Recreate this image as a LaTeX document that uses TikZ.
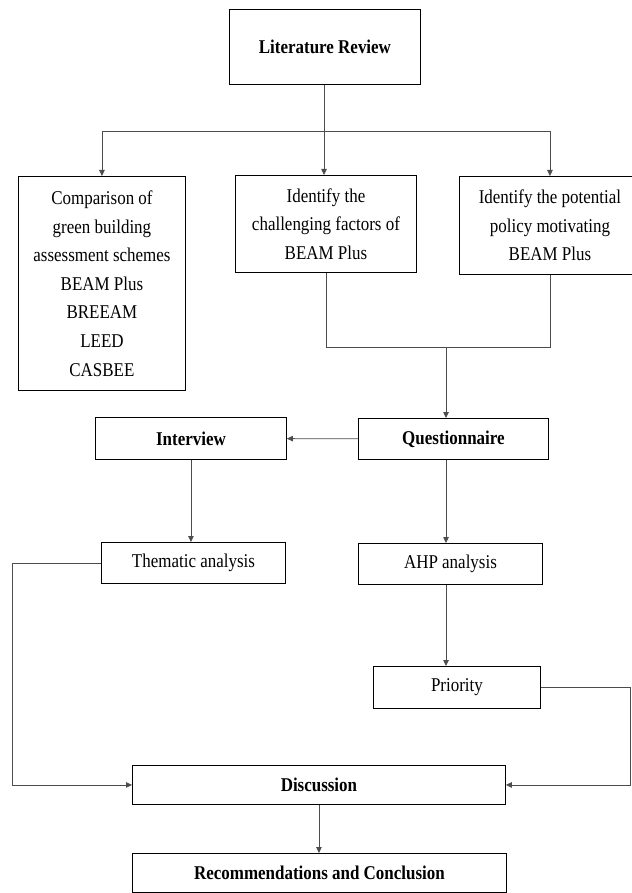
\documentclass[tikz,border=0pt]{standalone}
\usepackage{fontspec}
\setmainfont[FakeStretch=0.87]{Liberation Serif}
\usepackage{tikz}
\usetikzlibrary{arrows.meta, positioning, calc}

\tikzset{
  box/.style={rectangle, draw, line width=0.9pt, anchor=north west, align=center, inner sep=0pt,
    font=\fontsize{19.5}{28.6}\selectfont},
  link/.style={draw=black!70, line width=0.8pt},
  arr/.style={link, -{Triangle[length=6pt,width=5.5pt]}}
}

\begin{document}
\begin{tikzpicture}[x=1pt, y=-1pt]
        \useasboundingbox (0,0) rectangle (631,893);
        \node (LitReview) [box, minimum width=191pt, minimum height=75pt] at (229,9) {\textbf{Literature Review}};
        \node (Compare) [box, minimum width=167pt, minimum height=214pt] at (18,176) {Comparison of\\ green building\\ assessment schemes\\ BEAM Plus\\ BREEAM\\ LEED\\ CASBEE};
        \node (Challenge) [box, minimum width=181pt, minimum height=97pt] at (235,175) {Identify the\\ challenging factors of\\ BEAM Plus};
        \node (Policy) [box, minimum width=181pt, minimum height=98pt] at (459,176) {Identify the potential\\ policy motivating\\ BEAM Plus};
        \node (Interview) [box, minimum width=191pt, minimum height=42pt] at (95,417) {\textbf{Interview}};
        \node (Questionnaire) [box, minimum width=190pt, minimum height=41pt] at (358,418) {\textbf{Questionnaire}};
        \node (Thematic) [box, minimum width=184pt, minimum height=41pt] at (101,542) {Thematic analysis};
        \node (AHP) [box, minimum width=184pt, minimum height=41pt] at (358,543) {AHP analysis};
        \node (Priority) [box, minimum width=167pt, minimum height=42pt] at (373,666) {Priority};
        \node (Discussion) [box, minimum width=373pt, minimum height=39pt] at (132,765) {\textbf{Discussion}};
        \node (Recommend) [box, minimum width=374pt, minimum height=39pt] at (132,853) {\textbf{Recommendations and Conclusion}};

        \coordinate (split) at (324,131);
        \coordinate (merge) at (446,347);

        \draw[link] (split |- LitReview.south) -- (split);
        \draw[arr] (split) -| (Compare.north);
        \draw[arr] (split) -| (Policy.north);
        \draw[arr] (split) -- (split |- Challenge.north);

        \draw[link] (Challenge.south) -- (Challenge.south |- merge) -- (Policy.south |- merge) -- (Policy.south);
        \draw[arr] (merge) -- (merge |- Questionnaire.north);

        \draw[arr] (Questionnaire) -- (Interview);
        \draw[arr] (Interview.south) -- (Interview.south |- Thematic.north);
        \draw[arr] (merge |- Questionnaire.south) -- (merge |- AHP.north);
        \draw[arr] (merge |- AHP.south) -- (merge |- Priority.north);

        \draw[arr] (Thematic.west) -- ++(-88.5,0) |- (Discussion.west);
        \draw[arr] (Priority.east) -- ++(89,0) |- (Discussion.east);
        \draw[arr] (Discussion.south) -- (Discussion.south |- Recommend.north);
    \end{tikzpicture}
\end{document}
